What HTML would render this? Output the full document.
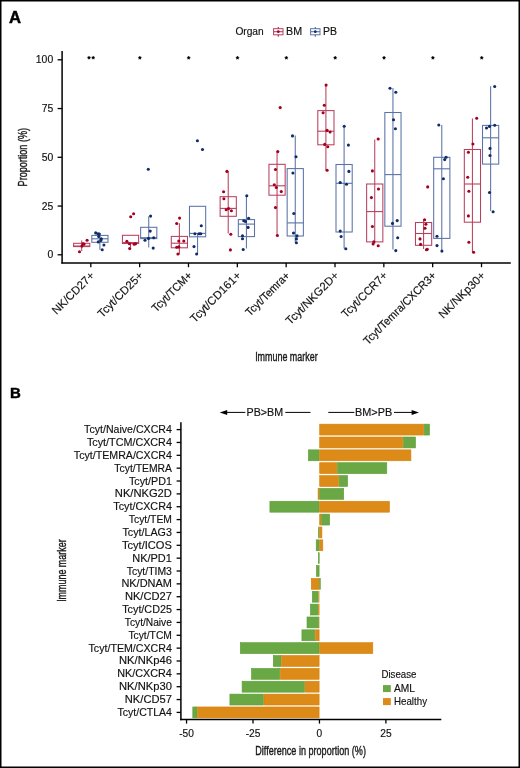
<!DOCTYPE html>
<html><head><meta charset="utf-8"><title>Figure</title>
<style>html,body{margin:0;padding:0;background:#fff;width:520px;height:768px;overflow:hidden}svg{display:block;will-change:transform}</style>
</head><body>
<svg width="520" height="768" viewBox="0 0 520 768" font-family='"Liberation Sans", sans-serif'>
<rect x="0" y="0" width="520" height="768" fill="#fff"/>
<text transform="translate(8.9,22.9) scale(1.05,1)" font-size="15.9" font-weight="bold" fill="#000" stroke="#000" stroke-width="0.45">A</text>
<text x="235.4" y="34.7" font-size="10.2" fill="#111" stroke="#111" stroke-width="0.15">Organ</text>
<line x1="278.3" y1="27.1" x2="278.3" y2="36.5" stroke="#B8405F" stroke-width="1"/><rect x="273.6" y="28.7" width="9.4" height="6.1" fill="#fff" stroke="#B8405F" stroke-width="1"/><line x1="278.3" y1="27.1" x2="278.3" y2="28.7" stroke="#B8405F" stroke-width="1"/><line x1="278.3" y1="34.8" x2="278.3" y2="36.5" stroke="#B8405F" stroke-width="1"/><line x1="273.6" y1="31.7" x2="283.0" y2="31.7" stroke="#B8405F" stroke-width="1.1"/><circle cx="278.3" cy="31.7" r="1.35" fill="#A3001F"/>
<text transform="translate(286.0,34.8) scale(1.05,1)" font-size="10.2" fill="#111" stroke="#111" stroke-width="0.15">BM</text>
<line x1="315.3" y1="27.1" x2="315.3" y2="36.5" stroke="#5A72A6" stroke-width="1"/><rect x="310.6" y="28.7" width="9.4" height="6.1" fill="#fff" stroke="#5A72A6" stroke-width="1"/><line x1="315.3" y1="27.1" x2="315.3" y2="28.7" stroke="#5A72A6" stroke-width="1"/><line x1="315.3" y1="34.8" x2="315.3" y2="36.5" stroke="#5A72A6" stroke-width="1"/><line x1="310.6" y1="31.7" x2="320.0" y2="31.7" stroke="#5A72A6" stroke-width="1.1"/><circle cx="315.3" cy="31.7" r="1.35" fill="#102C68"/>
<text transform="translate(323.0,34.8) scale(1.03,1)" font-size="10.2" fill="#111" stroke="#111" stroke-width="0.15">PB</text>
<line x1="62.1" y1="51" x2="62.1" y2="263.5" stroke="#000" stroke-width="1.5"/>
<line x1="61.35" y1="262.9" x2="510.8" y2="262.9" stroke="#000" stroke-width="1.5"/>
<line x1="57.6" y1="254.80" x2="62" y2="254.80" stroke="#000" stroke-width="1.3"/>
<text x="53.2" y="258.40" font-size="10.4" text-anchor="end" fill="#111" stroke="#111" stroke-width="0.15">0</text>
<line x1="57.6" y1="206.05" x2="62" y2="206.05" stroke="#000" stroke-width="1.3"/>
<text x="53.2" y="209.65" font-size="10.4" text-anchor="end" fill="#111" stroke="#111" stroke-width="0.15">25</text>
<line x1="57.6" y1="157.30" x2="62" y2="157.30" stroke="#000" stroke-width="1.3"/>
<text x="53.2" y="160.90" font-size="10.4" text-anchor="end" fill="#111" stroke="#111" stroke-width="0.15">50</text>
<line x1="57.6" y1="108.55" x2="62" y2="108.55" stroke="#000" stroke-width="1.3"/>
<text x="53.2" y="112.15" font-size="10.4" text-anchor="end" fill="#111" stroke="#111" stroke-width="0.15">75</text>
<line x1="57.6" y1="59.80" x2="62" y2="59.80" stroke="#000" stroke-width="1.3"/>
<text x="53.2" y="63.40" font-size="10.4" text-anchor="end" fill="#111" stroke="#111" stroke-width="0.15">100</text>
<line x1="90.80" y1="263" x2="90.80" y2="267.2" stroke="#000" stroke-width="1.3"/>
<text transform="translate(91.20,272.3) rotate(-45) scale(1.0,1)" font-size="11.4" text-anchor="end" fill="#111" stroke="#111" stroke-width="0.15" dy="5.6">NK/CD27+</text>
<line x1="139.64" y1="263" x2="139.64" y2="267.2" stroke="#000" stroke-width="1.3"/>
<text transform="translate(140.04,272.3) rotate(-45) scale(1.0,1)" font-size="11.4" text-anchor="end" fill="#111" stroke="#111" stroke-width="0.15" dy="5.6">Tcyt/CD25+</text>
<line x1="188.48" y1="263" x2="188.48" y2="267.2" stroke="#000" stroke-width="1.3"/>
<text transform="translate(188.88,272.3) rotate(-45) scale(0.946,1)" font-size="11.4" text-anchor="end" fill="#111" stroke="#111" stroke-width="0.15" dy="5.6">Tcyt/TCM+</text>
<line x1="237.32" y1="263" x2="237.32" y2="267.2" stroke="#000" stroke-width="1.3"/>
<text transform="translate(237.72,272.3) rotate(-45) scale(1.012,1)" font-size="11.4" text-anchor="end" fill="#111" stroke="#111" stroke-width="0.15" dy="5.6">Tcyt/CD161+</text>
<line x1="286.16" y1="263" x2="286.16" y2="267.2" stroke="#000" stroke-width="1.3"/>
<text transform="translate(286.56,272.3) rotate(-45) scale(0.928,1)" font-size="11.4" text-anchor="end" fill="#111" stroke="#111" stroke-width="0.15" dy="5.6">Tcyt/Temra+</text>
<line x1="335.00" y1="263" x2="335.00" y2="267.2" stroke="#000" stroke-width="1.3"/>
<text transform="translate(335.40,272.3) rotate(-45) scale(1.0,1)" font-size="11.4" text-anchor="end" fill="#111" stroke="#111" stroke-width="0.15" dy="5.6">Tcyt/NKG2D+</text>
<line x1="383.84" y1="263" x2="383.84" y2="267.2" stroke="#000" stroke-width="1.3"/>
<text transform="translate(384.24,272.3) rotate(-45) scale(0.976,1)" font-size="11.4" text-anchor="end" fill="#111" stroke="#111" stroke-width="0.15" dy="5.6">Tcyt/CCR7+</text>
<line x1="432.68" y1="263" x2="432.68" y2="267.2" stroke="#000" stroke-width="1.3"/>
<text transform="translate(433.08,272.3) rotate(-45) scale(0.945,1)" font-size="11.4" text-anchor="end" fill="#111" stroke="#111" stroke-width="0.15" dy="5.6">Tcyt/Temra/CXCR3+</text>
<line x1="481.52" y1="263" x2="481.52" y2="267.2" stroke="#000" stroke-width="1.3"/>
<text transform="translate(481.92,272.3) rotate(-45) scale(1.0,1)" font-size="11.4" text-anchor="end" fill="#111" stroke="#111" stroke-width="0.15" dy="5.6">NK/NKp30+</text>
<text transform="translate(286.4,360.7) scale(0.71,1)" font-size="12.6" text-anchor="middle" fill="#1a1a1a" stroke="#1a1a1a" stroke-width="0.4">Immune marker</text>
<text transform="translate(26.6,157.2) rotate(-90) scale(0.72,1)" font-size="12.6" text-anchor="middle" fill="#1a1a1a" stroke="#1a1a1a" stroke-width="0.4">Proportion (%)</text>
<path transform="translate(89.00,57.7)" d="M0.00,-1.75 L0.56,-0.77 L1.66,-0.54 L0.90,0.29 L1.03,1.42 L0.00,0.95 L-1.03,1.42 L-0.90,0.29 L-1.66,-0.54 L-0.56,-0.77 Z" fill="#000" stroke="#000" stroke-width="0.4"/>
<path transform="translate(93.20,57.7)" d="M0.00,-1.75 L0.56,-0.77 L1.66,-0.54 L0.90,0.29 L1.03,1.42 L0.00,0.95 L-1.03,1.42 L-0.90,0.29 L-1.66,-0.54 L-0.56,-0.77 Z" fill="#000" stroke="#000" stroke-width="0.4"/>
<path transform="translate(139.84,57.8)" d="M0.00,-1.75 L0.56,-0.77 L1.66,-0.54 L0.90,0.29 L1.03,1.42 L0.00,0.95 L-1.03,1.42 L-0.90,0.29 L-1.66,-0.54 L-0.56,-0.77 Z" fill="#000" stroke="#000" stroke-width="0.4"/>
<path transform="translate(188.68,57.8)" d="M0.00,-1.75 L0.56,-0.77 L1.66,-0.54 L0.90,0.29 L1.03,1.42 L0.00,0.95 L-1.03,1.42 L-0.90,0.29 L-1.66,-0.54 L-0.56,-0.77 Z" fill="#000" stroke="#000" stroke-width="0.4"/>
<path transform="translate(237.52,57.8)" d="M0.00,-1.75 L0.56,-0.77 L1.66,-0.54 L0.90,0.29 L1.03,1.42 L0.00,0.95 L-1.03,1.42 L-0.90,0.29 L-1.66,-0.54 L-0.56,-0.77 Z" fill="#000" stroke="#000" stroke-width="0.4"/>
<path transform="translate(286.36,57.8)" d="M0.00,-1.75 L0.56,-0.77 L1.66,-0.54 L0.90,0.29 L1.03,1.42 L0.00,0.95 L-1.03,1.42 L-0.90,0.29 L-1.66,-0.54 L-0.56,-0.77 Z" fill="#000" stroke="#000" stroke-width="0.4"/>
<path transform="translate(335.20,57.8)" d="M0.00,-1.75 L0.56,-0.77 L1.66,-0.54 L0.90,0.29 L1.03,1.42 L0.00,0.95 L-1.03,1.42 L-0.90,0.29 L-1.66,-0.54 L-0.56,-0.77 Z" fill="#000" stroke="#000" stroke-width="0.4"/>
<path transform="translate(384.04,57.8)" d="M0.00,-1.75 L0.56,-0.77 L1.66,-0.54 L0.90,0.29 L1.03,1.42 L0.00,0.95 L-1.03,1.42 L-0.90,0.29 L-1.66,-0.54 L-0.56,-0.77 Z" fill="#000" stroke="#000" stroke-width="0.4"/>
<path transform="translate(432.88,57.8)" d="M0.00,-1.75 L0.56,-0.77 L1.66,-0.54 L0.90,0.29 L1.03,1.42 L0.00,0.95 L-1.03,1.42 L-0.90,0.29 L-1.66,-0.54 L-0.56,-0.77 Z" fill="#000" stroke="#000" stroke-width="0.4"/>
<path transform="translate(481.72,57.8)" d="M0.00,-1.75 L0.56,-0.77 L1.66,-0.54 L0.90,0.29 L1.03,1.42 L0.00,0.95 L-1.03,1.42 L-0.90,0.29 L-1.66,-0.54 L-0.56,-0.77 Z" fill="#000" stroke="#000" stroke-width="0.4"/>
<line x1="81.7" y1="240.6" x2="81.7" y2="251.0" stroke="#B8405F" stroke-width="1.05"/>
<rect x="73.6" y="243.3" width="16.200000000000003" height="3.30" fill="none" stroke="#B8405F" stroke-width="1.05"/>
<line x1="73.6" y1="246.0" x2="89.8" y2="246.0" stroke="#B8405F" stroke-width="1.1"/>
<circle cx="87.10" cy="240.20" r="1.55" fill="#A3001F"/>
<circle cx="79.50" cy="251.70" r="1.55" fill="#A3001F"/>
<circle cx="83.00" cy="243.90" r="1.55" fill="#A3001F"/>
<circle cx="81.90" cy="246.10" r="1.55" fill="#A3001F"/>
<circle cx="84.00" cy="244.10" r="1.55" fill="#A3001F"/>
<line x1="99.9" y1="232.8" x2="99.9" y2="249.7" stroke="#5A72A6" stroke-width="1.05"/>
<rect x="91.8" y="235.4" width="16.200000000000003" height="6.90" fill="none" stroke="#5A72A6" stroke-width="1.05"/>
<line x1="91.8" y1="238.8" x2="108.0" y2="238.8" stroke="#5A72A6" stroke-width="1.1"/>
<circle cx="95.70" cy="232.90" r="1.55" fill="#102C68"/>
<circle cx="97.90" cy="233.80" r="1.55" fill="#102C68"/>
<circle cx="99.20" cy="234.10" r="1.55" fill="#102C68"/>
<circle cx="98.70" cy="236.50" r="1.55" fill="#102C68"/>
<circle cx="101.30" cy="238.70" r="1.55" fill="#102C68"/>
<circle cx="100.90" cy="240.40" r="1.55" fill="#102C68"/>
<circle cx="98.30" cy="241.90" r="1.55" fill="#102C68"/>
<circle cx="103.90" cy="245.00" r="1.55" fill="#102C68"/>
<circle cx="102.20" cy="249.70" r="1.55" fill="#102C68"/>
<line x1="130.54" y1="242.6" x2="130.54" y2="247.4" stroke="#B8405F" stroke-width="1.05"/>
<rect x="122.44" y="235.3" width="16.19999999999999" height="8.20" fill="none" stroke="#B8405F" stroke-width="1.05"/>
<line x1="122.44" y1="242.6" x2="138.64" y2="242.6" stroke="#B8405F" stroke-width="1.1"/>
<circle cx="133.60" cy="213.80" r="1.55" fill="#A3001F"/>
<circle cx="130.70" cy="216.70" r="1.55" fill="#A3001F"/>
<circle cx="126.90" cy="241.20" r="1.55" fill="#A3001F"/>
<circle cx="129.40" cy="243.80" r="1.55" fill="#A3001F"/>
<circle cx="134.20" cy="244.20" r="1.55" fill="#A3001F"/>
<circle cx="135.50" cy="243.80" r="1.55" fill="#A3001F"/>
<circle cx="129.70" cy="248.60" r="1.55" fill="#A3001F"/>
<line x1="148.74" y1="216.2" x2="148.74" y2="247.4" stroke="#5A72A6" stroke-width="1.05"/>
<rect x="140.64" y="227.3" width="16.200000000000017" height="11.30" fill="none" stroke="#5A72A6" stroke-width="1.05"/>
<line x1="140.64" y1="237.7" x2="156.84" y2="237.7" stroke="#5A72A6" stroke-width="1.1"/>
<circle cx="148.30" cy="169.30" r="1.55" fill="#102C68"/>
<circle cx="150.60" cy="216.10" r="1.55" fill="#102C68"/>
<circle cx="150.20" cy="231.10" r="1.55" fill="#102C68"/>
<circle cx="153.70" cy="237.70" r="1.55" fill="#102C68"/>
<circle cx="148.50" cy="238.40" r="1.55" fill="#102C68"/>
<circle cx="145.00" cy="240.30" r="1.55" fill="#102C68"/>
<circle cx="153.20" cy="248.10" r="1.55" fill="#102C68"/>
<line x1="179.38" y1="223.2" x2="179.38" y2="254.6" stroke="#B8405F" stroke-width="1.05"/>
<rect x="171.28" y="236.4" width="16.19999999999999" height="11.40" fill="none" stroke="#B8405F" stroke-width="1.05"/>
<line x1="171.28" y1="243.2" x2="187.48" y2="243.2" stroke="#B8405F" stroke-width="1.1"/>
<circle cx="179.60" cy="218.10" r="1.55" fill="#A3001F"/>
<circle cx="176.70" cy="223.50" r="1.55" fill="#A3001F"/>
<circle cx="178.80" cy="241.00" r="1.55" fill="#A3001F"/>
<circle cx="183.80" cy="241.00" r="1.55" fill="#A3001F"/>
<circle cx="176.70" cy="247.30" r="1.55" fill="#A3001F"/>
<circle cx="178.80" cy="246.90" r="1.55" fill="#A3001F"/>
<circle cx="177.90" cy="254.00" r="1.55" fill="#A3001F"/>
<line x1="197.58" y1="233.4" x2="197.58" y2="254.6" stroke="#5A72A6" stroke-width="1.05"/>
<rect x="189.48" y="206.3" width="16.200000000000017" height="30.50" fill="none" stroke="#5A72A6" stroke-width="1.05"/>
<line x1="189.48" y1="233.4" x2="205.68" y2="233.4" stroke="#5A72A6" stroke-width="1.1"/>
<circle cx="197.40" cy="140.80" r="1.55" fill="#102C68"/>
<circle cx="202.50" cy="149.50" r="1.55" fill="#102C68"/>
<circle cx="201.30" cy="225.70" r="1.55" fill="#102C68"/>
<circle cx="194.90" cy="233.70" r="1.55" fill="#102C68"/>
<circle cx="199.10" cy="233.70" r="1.55" fill="#102C68"/>
<circle cx="200.80" cy="233.70" r="1.55" fill="#102C68"/>
<circle cx="194.00" cy="246.60" r="1.55" fill="#102C68"/>
<circle cx="196.60" cy="254.00" r="1.55" fill="#102C68"/>
<line x1="228.22" y1="171.1" x2="228.22" y2="233.6" stroke="#B8405F" stroke-width="1.05"/>
<rect x="220.12" y="196.7" width="16.19999999999999" height="19.60" fill="none" stroke="#B8405F" stroke-width="1.05"/>
<line x1="220.12" y1="208.4" x2="236.32" y2="208.4" stroke="#B8405F" stroke-width="1.1"/>
<circle cx="226.90" cy="171.40" r="1.55" fill="#A3001F"/>
<circle cx="223.60" cy="191.80" r="1.55" fill="#A3001F"/>
<circle cx="223.90" cy="198.70" r="1.55" fill="#A3001F"/>
<circle cx="226.20" cy="209.80" r="1.55" fill="#A3001F"/>
<circle cx="228.60" cy="208.50" r="1.55" fill="#A3001F"/>
<circle cx="231.40" cy="210.80" r="1.55" fill="#A3001F"/>
<circle cx="230.80" cy="234.30" r="1.55" fill="#A3001F"/>
<circle cx="230.40" cy="249.90" r="1.55" fill="#A3001F"/>
<line x1="246.42" y1="195.4" x2="246.42" y2="248.5" stroke="#5A72A6" stroke-width="1.05"/>
<rect x="238.32" y="219.6" width="16.200000000000017" height="17.00" fill="none" stroke="#5A72A6" stroke-width="1.05"/>
<line x1="238.32" y1="224.1" x2="254.52" y2="224.1" stroke="#5A72A6" stroke-width="1.1"/>
<circle cx="246.80" cy="195.70" r="1.55" fill="#102C68"/>
<circle cx="248.60" cy="218.20" r="1.55" fill="#102C68"/>
<circle cx="243.80" cy="220.80" r="1.55" fill="#102C68"/>
<circle cx="245.50" cy="221.50" r="1.55" fill="#102C68"/>
<circle cx="248.10" cy="227.40" r="1.55" fill="#102C68"/>
<circle cx="242.50" cy="235.80" r="1.55" fill="#102C68"/>
<circle cx="242.50" cy="238.80" r="1.55" fill="#102C68"/>
<circle cx="243.20" cy="249.50" r="1.55" fill="#102C68"/>
<line x1="277.06" y1="151.3" x2="277.06" y2="235.2" stroke="#B8405F" stroke-width="1.05"/>
<rect x="268.96" y="164.3" width="16.200000000000045" height="30.90" fill="none" stroke="#B8405F" stroke-width="1.05"/>
<line x1="268.96" y1="185.8" x2="285.16" y2="185.8" stroke="#B8405F" stroke-width="1.1"/>
<circle cx="280.20" cy="107.60" r="1.55" fill="#A3001F"/>
<circle cx="277.80" cy="151.60" r="1.55" fill="#A3001F"/>
<circle cx="275.50" cy="169.50" r="1.55" fill="#A3001F"/>
<circle cx="274.30" cy="184.80" r="1.55" fill="#A3001F"/>
<circle cx="276.30" cy="187.50" r="1.55" fill="#A3001F"/>
<circle cx="281.30" cy="191.60" r="1.55" fill="#A3001F"/>
<circle cx="275.50" cy="207.60" r="1.55" fill="#A3001F"/>
<circle cx="277.40" cy="235.50" r="1.55" fill="#A3001F"/>
<line x1="295.26" y1="135.6" x2="295.26" y2="242.5" stroke="#5A72A6" stroke-width="1.05"/>
<rect x="287.16" y="168.6" width="16.19999999999999" height="67.40" fill="none" stroke="#5A72A6" stroke-width="1.05"/>
<line x1="287.16" y1="222.9" x2="303.36" y2="222.9" stroke="#5A72A6" stroke-width="1.1"/>
<circle cx="292.50" cy="135.90" r="1.55" fill="#102C68"/>
<circle cx="296.00" cy="156.80" r="1.55" fill="#102C68"/>
<circle cx="292.90" cy="173.00" r="1.55" fill="#102C68"/>
<circle cx="293.80" cy="213.50" r="1.55" fill="#102C68"/>
<circle cx="293.50" cy="233.00" r="1.55" fill="#102C68"/>
<circle cx="297.00" cy="235.90" r="1.55" fill="#102C68"/>
<circle cx="296.40" cy="238.90" r="1.55" fill="#102C68"/>
<circle cx="296.40" cy="242.80" r="1.55" fill="#102C68"/>
<line x1="325.9" y1="84.8" x2="325.9" y2="169.9" stroke="#B8405F" stroke-width="1.05"/>
<rect x="317.8" y="110.6" width="16.19999999999999" height="34.20" fill="none" stroke="#B8405F" stroke-width="1.05"/>
<line x1="317.8" y1="131.2" x2="334.0" y2="131.2" stroke="#B8405F" stroke-width="1.1"/>
<circle cx="326.10" cy="85.10" r="1.55" fill="#A3001F"/>
<circle cx="324.30" cy="105.30" r="1.55" fill="#A3001F"/>
<circle cx="323.10" cy="112.80" r="1.55" fill="#A3001F"/>
<circle cx="327.10" cy="130.40" r="1.55" fill="#A3001F"/>
<circle cx="330.10" cy="132.00" r="1.55" fill="#A3001F"/>
<circle cx="324.70" cy="144.40" r="1.55" fill="#A3001F"/>
<circle cx="327.80" cy="146.80" r="1.55" fill="#A3001F"/>
<circle cx="327.10" cy="170.20" r="1.55" fill="#A3001F"/>
<line x1="344.1" y1="125.9" x2="344.1" y2="248.4" stroke="#5A72A6" stroke-width="1.05"/>
<rect x="336.0" y="164.5" width="16.19999999999999" height="67.50" fill="none" stroke="#5A72A6" stroke-width="1.05"/>
<line x1="336.0" y1="183.3" x2="352.2" y2="183.3" stroke="#5A72A6" stroke-width="1.1"/>
<circle cx="344.20" cy="126.20" r="1.55" fill="#102C68"/>
<circle cx="348.40" cy="145.10" r="1.55" fill="#102C68"/>
<circle cx="348.90" cy="171.40" r="1.55" fill="#102C68"/>
<circle cx="340.20" cy="182.60" r="1.55" fill="#102C68"/>
<circle cx="346.50" cy="184.30" r="1.55" fill="#102C68"/>
<circle cx="340.20" cy="231.10" r="1.55" fill="#102C68"/>
<circle cx="341.10" cy="236.50" r="1.55" fill="#102C68"/>
<circle cx="345.80" cy="248.70" r="1.55" fill="#102C68"/>
<line x1="374.74" y1="139.4" x2="374.74" y2="243.7" stroke="#B8405F" stroke-width="1.05"/>
<rect x="366.64" y="184.0" width="16.19999999999999" height="57.90" fill="none" stroke="#B8405F" stroke-width="1.05"/>
<line x1="366.64" y1="211.6" x2="382.84" y2="211.6" stroke="#B8405F" stroke-width="1.1"/>
<circle cx="378.20" cy="139.00" r="1.55" fill="#A3001F"/>
<circle cx="372.40" cy="170.90" r="1.55" fill="#A3001F"/>
<circle cx="378.50" cy="189.00" r="1.55" fill="#A3001F"/>
<circle cx="371.40" cy="197.60" r="1.55" fill="#A3001F"/>
<circle cx="372.40" cy="226.50" r="1.55" fill="#A3001F"/>
<circle cx="373.80" cy="241.70" r="1.55" fill="#A3001F"/>
<circle cx="373.10" cy="244.00" r="1.55" fill="#A3001F"/>
<circle cx="378.20" cy="245.70" r="1.55" fill="#A3001F"/>
<line x1="392.94" y1="87.9" x2="392.94" y2="249.6" stroke="#5A72A6" stroke-width="1.05"/>
<rect x="384.84" y="112.5" width="16.200000000000045" height="113.70" fill="none" stroke="#5A72A6" stroke-width="1.05"/>
<line x1="384.84" y1="174.6" x2="401.04" y2="174.6" stroke="#5A72A6" stroke-width="1.1"/>
<circle cx="390.00" cy="88.20" r="1.55" fill="#102C68"/>
<circle cx="395.80" cy="92.20" r="1.55" fill="#102C68"/>
<circle cx="393.50" cy="119.80" r="1.55" fill="#102C68"/>
<circle cx="395.40" cy="128.70" r="1.55" fill="#102C68"/>
<circle cx="392.50" cy="223.40" r="1.55" fill="#102C68"/>
<circle cx="397.20" cy="220.60" r="1.55" fill="#102C68"/>
<circle cx="397.70" cy="237.70" r="1.55" fill="#102C68"/>
<circle cx="395.80" cy="250.60" r="1.55" fill="#102C68"/>
<line x1="423.58" y1="219.8" x2="423.58" y2="249.0" stroke="#B8405F" stroke-width="1.05"/>
<rect x="415.48" y="222.5" width="16.19999999999999" height="22.80" fill="none" stroke="#B8405F" stroke-width="1.05"/>
<line x1="415.48" y1="233.5" x2="431.68" y2="233.5" stroke="#B8405F" stroke-width="1.1"/>
<circle cx="427.70" cy="186.90" r="1.55" fill="#A3001F"/>
<circle cx="424.60" cy="219.70" r="1.55" fill="#A3001F"/>
<circle cx="425.90" cy="224.30" r="1.55" fill="#A3001F"/>
<circle cx="425.00" cy="228.30" r="1.55" fill="#A3001F"/>
<circle cx="420.00" cy="238.90" r="1.55" fill="#A3001F"/>
<circle cx="420.60" cy="244.40" r="1.55" fill="#A3001F"/>
<circle cx="427.30" cy="249.30" r="1.55" fill="#A3001F"/>
<circle cx="426.40" cy="249.80" r="1.55" fill="#A3001F"/>
<line x1="441.78" y1="125.0" x2="441.78" y2="251.3" stroke="#5A72A6" stroke-width="1.05"/>
<rect x="433.68" y="157.3" width="16.19999999999999" height="81.10" fill="none" stroke="#5A72A6" stroke-width="1.05"/>
<line x1="433.68" y1="168.8" x2="449.88" y2="168.8" stroke="#5A72A6" stroke-width="1.1"/>
<circle cx="438.80" cy="125.00" r="1.55" fill="#102C68"/>
<circle cx="446.10" cy="157.20" r="1.55" fill="#102C68"/>
<circle cx="444.70" cy="159.60" r="1.55" fill="#102C68"/>
<circle cx="443.40" cy="178.70" r="1.55" fill="#102C68"/>
<circle cx="437.00" cy="236.20" r="1.55" fill="#102C68"/>
<circle cx="437.00" cy="245.60" r="1.55" fill="#102C68"/>
<circle cx="441.90" cy="251.10" r="1.55" fill="#102C68"/>
<line x1="472.42" y1="118.4" x2="472.42" y2="251.9" stroke="#B8405F" stroke-width="1.05"/>
<rect x="464.32" y="149.5" width="16.19999999999999" height="72.70" fill="none" stroke="#B8405F" stroke-width="1.05"/>
<line x1="464.32" y1="184.0" x2="480.52" y2="184.0" stroke="#B8405F" stroke-width="1.1"/>
<circle cx="476.70" cy="118.20" r="1.55" fill="#A3001F"/>
<circle cx="472.90" cy="144.00" r="1.55" fill="#A3001F"/>
<circle cx="468.40" cy="152.20" r="1.55" fill="#A3001F"/>
<circle cx="467.70" cy="177.30" r="1.55" fill="#A3001F"/>
<circle cx="468.90" cy="191.30" r="1.55" fill="#A3001F"/>
<circle cx="468.40" cy="215.90" r="1.55" fill="#A3001F"/>
<circle cx="468.90" cy="242.20" r="1.55" fill="#A3001F"/>
<circle cx="473.60" cy="252.20" r="1.55" fill="#A3001F"/>
<line x1="490.62" y1="86.2" x2="490.62" y2="210.9" stroke="#5A72A6" stroke-width="1.05"/>
<rect x="482.52" y="125.4" width="16.200000000000045" height="38.70" fill="none" stroke="#5A72A6" stroke-width="1.05"/>
<line x1="482.52" y1="137.8" x2="498.72" y2="137.8" stroke="#5A72A6" stroke-width="1.1"/>
<circle cx="494.70" cy="86.50" r="1.55" fill="#102C68"/>
<circle cx="486.50" cy="128.00" r="1.55" fill="#102C68"/>
<circle cx="489.50" cy="126.40" r="1.55" fill="#102C68"/>
<circle cx="494.70" cy="125.20" r="1.55" fill="#102C68"/>
<circle cx="490.00" cy="148.40" r="1.55" fill="#102C68"/>
<circle cx="490.00" cy="155.50" r="1.55" fill="#102C68"/>
<circle cx="489.50" cy="192.50" r="1.55" fill="#102C68"/>
<circle cx="493.10" cy="211.70" r="1.55" fill="#102C68"/>
<text transform="translate(9.9,398.3) scale(0.98,1)" font-size="15.3" font-weight="bold" fill="#000" stroke="#000" stroke-width="0.45">B</text>
<rect x="319.70" y="424.15" width="103.90" height="10.90" fill="#DC8A18" stroke="#D88004" stroke-width="0.6"/>
<rect x="424.20" y="424.15" width="5.30" height="10.90" fill="#69A845" stroke="#5A9E32" stroke-width="0.6"/>
<rect x="319.70" y="437.01" width="83.10" height="10.90" fill="#DC8A18" stroke="#D88004" stroke-width="0.6"/>
<rect x="403.40" y="437.01" width="12.10" height="10.90" fill="#69A845" stroke="#5A9E32" stroke-width="0.6"/>
<rect x="308.40" y="449.86" width="10.70" height="10.90" fill="#69A845" stroke="#5A9E32" stroke-width="0.6"/>
<rect x="319.70" y="449.86" width="91.20" height="10.90" fill="#DC8A18" stroke="#D88004" stroke-width="0.6"/>
<rect x="319.70" y="462.72" width="17.20" height="10.90" fill="#DC8A18" stroke="#D88004" stroke-width="0.6"/>
<rect x="337.50" y="462.72" width="49.30" height="10.90" fill="#69A845" stroke="#5A9E32" stroke-width="0.6"/>
<rect x="319.70" y="475.57" width="18.90" height="10.90" fill="#DC8A18" stroke="#D88004" stroke-width="0.6"/>
<rect x="339.20" y="475.57" width="8.40" height="10.90" fill="#69A845" stroke="#5A9E32" stroke-width="0.6"/>
<rect x="318.10" y="488.43" width="1.00" height="10.90" fill="#DC8A18" stroke="#D88004" stroke-width="0.6"/>
<rect x="319.70" y="488.43" width="24.00" height="10.90" fill="#69A845" stroke="#5A9E32" stroke-width="0.6"/>
<rect x="269.90" y="501.28" width="49.20" height="10.90" fill="#69A845" stroke="#5A9E32" stroke-width="0.6"/>
<rect x="319.70" y="501.28" width="69.70" height="10.90" fill="#DC8A18" stroke="#D88004" stroke-width="0.6"/>
<rect x="319.70" y="514.13" width="1.40" height="10.90" fill="#DC8A18" stroke="#D88004" stroke-width="0.6"/>
<rect x="321.70" y="514.13" width="7.90" height="10.90" fill="#69A845" stroke="#5A9E32" stroke-width="0.6"/>
<rect x="318.50" y="526.99" width="0.60" height="10.90" fill="#69A845" stroke="#5A9E32" stroke-width="0.6"/>
<rect x="319.70" y="526.99" width="2.20" height="10.90" fill="#DC8A18" stroke="#D88004" stroke-width="0.6"/>
<rect x="316.20" y="539.85" width="2.90" height="10.90" fill="#69A845" stroke="#5A9E32" stroke-width="0.6"/>
<rect x="319.70" y="539.85" width="3.10" height="10.90" fill="#DC8A18" stroke="#D88004" stroke-width="0.6"/>
<rect x="318.30" y="552.70" width="0.90" height="10.90" fill="#69A845" stroke="#5A9E32" stroke-width="0.6"/>
<rect x="316.40" y="565.55" width="2.70" height="10.90" fill="#69A845" stroke="#5A9E32" stroke-width="0.6"/>
<rect x="311.30" y="578.41" width="7.80" height="10.90" fill="#DC8A18" stroke="#D88004" stroke-width="0.6"/>
<rect x="319.70" y="578.41" width="0.60" height="10.90" fill="#69A845" stroke="#5A9E32" stroke-width="0.6"/>
<rect x="312.30" y="591.26" width="5.90" height="10.90" fill="#69A845" stroke="#5A9E32" stroke-width="0.6"/>
<rect x="318.5" y="590.97" width="0.90" height="11.5" fill="#DC8A18"/>
<rect x="310.40" y="604.12" width="7.50" height="10.90" fill="#69A845" stroke="#5A9E32" stroke-width="0.6"/>
<rect x="318.50" y="604.12" width="0.60" height="10.90" fill="#DC8A18" stroke="#D88004" stroke-width="0.6"/>
<rect x="307.00" y="616.98" width="11.70" height="10.90" fill="#69A845" stroke="#5A9E32" stroke-width="0.6"/>
<rect x="319.0" y="616.68" width="0.40" height="11.5" fill="#DC8A18"/>
<rect x="301.90" y="629.83" width="12.90" height="10.90" fill="#69A845" stroke="#5A9E32" stroke-width="0.6"/>
<rect x="315.40" y="629.83" width="3.70" height="10.90" fill="#DC8A18" stroke="#D88004" stroke-width="0.6"/>
<rect x="240.30" y="642.68" width="78.80" height="10.90" fill="#69A845" stroke="#5A9E32" stroke-width="0.6"/>
<rect x="319.70" y="642.68" width="53.10" height="10.90" fill="#DC8A18" stroke="#D88004" stroke-width="0.6"/>
<rect x="273.30" y="655.54" width="7.70" height="10.90" fill="#69A845" stroke="#5A9E32" stroke-width="0.6"/>
<rect x="281.60" y="655.54" width="37.50" height="10.90" fill="#DC8A18" stroke="#D88004" stroke-width="0.6"/>
<rect x="251.50" y="668.39" width="28.20" height="10.90" fill="#69A845" stroke="#5A9E32" stroke-width="0.6"/>
<rect x="280.30" y="668.39" width="38.80" height="10.90" fill="#DC8A18" stroke="#D88004" stroke-width="0.6"/>
<rect x="242.10" y="681.25" width="62.40" height="10.90" fill="#69A845" stroke="#5A9E32" stroke-width="0.6"/>
<rect x="305.10" y="681.25" width="14.00" height="10.90" fill="#DC8A18" stroke="#D88004" stroke-width="0.6"/>
<rect x="229.90" y="694.11" width="33.50" height="10.90" fill="#69A845" stroke="#5A9E32" stroke-width="0.6"/>
<rect x="264.00" y="694.11" width="55.10" height="10.90" fill="#DC8A18" stroke="#D88004" stroke-width="0.6"/>
<rect x="192.80" y="706.96" width="4.20" height="10.90" fill="#69A845" stroke="#5A9E32" stroke-width="0.6"/>
<rect x="197.60" y="706.96" width="121.50" height="10.90" fill="#DC8A18" stroke="#D88004" stroke-width="0.6"/>
<line x1="180.9" y1="422.2" x2="180.9" y2="720.2" stroke="#000" stroke-width="1.5"/>
<line x1="180.15" y1="719.5" x2="441.3" y2="719.5" stroke="#000" stroke-width="1.5"/>
<line x1="176.6" y1="429.60" x2="180.8" y2="429.60" stroke="#000" stroke-width="1.3"/>
<text transform="translate(171.9,433.10) scale(1.0105,1)" font-size="10.5" text-anchor="end" fill="#111" stroke="#111" stroke-width="0.15">Tcyt/Naive/CXCR4</text>
<line x1="176.6" y1="442.46" x2="180.8" y2="442.46" stroke="#000" stroke-width="1.3"/>
<text transform="translate(171.9,445.96) scale(1.028,1)" font-size="10.5" text-anchor="end" fill="#111" stroke="#111" stroke-width="0.15">Tcyt/TCM/CXCR4</text>
<line x1="176.6" y1="455.31" x2="180.8" y2="455.31" stroke="#000" stroke-width="1.3"/>
<text transform="translate(171.9,458.81) scale(1.0135,1)" font-size="10.5" text-anchor="end" fill="#111" stroke="#111" stroke-width="0.15">Tcyt/TEMRA/CXCR4</text>
<line x1="176.6" y1="468.17" x2="180.8" y2="468.17" stroke="#000" stroke-width="1.3"/>
<text transform="translate(171.9,471.67) scale(0.9879,1)" font-size="10.5" text-anchor="end" fill="#111" stroke="#111" stroke-width="0.15">Tcyt/TEMRA</text>
<line x1="176.6" y1="481.02" x2="180.8" y2="481.02" stroke="#000" stroke-width="1.3"/>
<text transform="translate(171.9,484.52) scale(1.0244,1)" font-size="10.5" text-anchor="end" fill="#111" stroke="#111" stroke-width="0.15">Tcyt/PD1</text>
<line x1="176.6" y1="493.88" x2="180.8" y2="493.88" stroke="#000" stroke-width="1.3"/>
<text transform="translate(171.9,497.38) scale(1.0654,1)" font-size="10.5" text-anchor="end" fill="#111" stroke="#111" stroke-width="0.15">NK/NKG2D</text>
<line x1="176.6" y1="506.73" x2="180.8" y2="506.73" stroke="#000" stroke-width="1.3"/>
<text transform="translate(171.9,510.23) scale(1.0268,1)" font-size="10.5" text-anchor="end" fill="#111" stroke="#111" stroke-width="0.15">Tcyt/CXCR4</text>
<line x1="176.6" y1="519.59" x2="180.8" y2="519.59" stroke="#000" stroke-width="1.3"/>
<text transform="translate(171.9,523.09) scale(0.986,1)" font-size="10.5" text-anchor="end" fill="#111" stroke="#111" stroke-width="0.15">Tcyt/TEM</text>
<line x1="176.6" y1="532.44" x2="180.8" y2="532.44" stroke="#000" stroke-width="1.3"/>
<text transform="translate(171.9,535.94) scale(1.0208,1)" font-size="10.5" text-anchor="end" fill="#111" stroke="#111" stroke-width="0.15">Tcyt/LAG3</text>
<line x1="176.6" y1="545.30" x2="180.8" y2="545.30" stroke="#000" stroke-width="1.3"/>
<text transform="translate(171.9,548.80) scale(1.0565,1)" font-size="10.5" text-anchor="end" fill="#111" stroke="#111" stroke-width="0.15">Tcyt/ICOS</text>
<line x1="176.6" y1="558.15" x2="180.8" y2="558.15" stroke="#000" stroke-width="1.3"/>
<text transform="translate(171.9,561.65) scale(1.0459,1)" font-size="10.5" text-anchor="end" fill="#111" stroke="#111" stroke-width="0.15">NK/PD1</text>
<line x1="176.6" y1="571.00" x2="180.8" y2="571.00" stroke="#000" stroke-width="1.3"/>
<text transform="translate(171.9,574.50) scale(0.9933,1)" font-size="10.5" text-anchor="end" fill="#111" stroke="#111" stroke-width="0.15">Tcyt/TIM3</text>
<line x1="176.6" y1="583.86" x2="180.8" y2="583.86" stroke="#000" stroke-width="1.3"/>
<text transform="translate(171.9,587.36) scale(1.0447,1)" font-size="10.5" text-anchor="end" fill="#111" stroke="#111" stroke-width="0.15">NK/DNAM</text>
<line x1="176.6" y1="596.72" x2="180.8" y2="596.72" stroke="#000" stroke-width="1.3"/>
<text transform="translate(171.9,600.22) scale(1.0605,1)" font-size="10.5" text-anchor="end" fill="#111" stroke="#111" stroke-width="0.15">NK/CD27</text>
<line x1="176.6" y1="609.57" x2="180.8" y2="609.57" stroke="#000" stroke-width="1.3"/>
<text transform="translate(171.9,613.07) scale(1.0271,1)" font-size="10.5" text-anchor="end" fill="#111" stroke="#111" stroke-width="0.15">Tcyt/CD25</text>
<line x1="176.6" y1="622.43" x2="180.8" y2="622.43" stroke="#000" stroke-width="1.3"/>
<text transform="translate(171.9,625.93) scale(0.9729,1)" font-size="10.5" text-anchor="end" fill="#111" stroke="#111" stroke-width="0.15">Tcyt/Naive</text>
<line x1="176.6" y1="635.28" x2="180.8" y2="635.28" stroke="#000" stroke-width="1.3"/>
<text transform="translate(171.9,638.78) scale(0.9818,1)" font-size="10.5" text-anchor="end" fill="#111" stroke="#111" stroke-width="0.15">Tcyt/TCM</text>
<line x1="176.6" y1="648.13" x2="180.8" y2="648.13" stroke="#000" stroke-width="1.3"/>
<text transform="translate(171.9,651.63) scale(1.0148,1)" font-size="10.5" text-anchor="end" fill="#111" stroke="#111" stroke-width="0.15">Tcyt/TEM/CXCR4</text>
<line x1="176.6" y1="660.99" x2="180.8" y2="660.99" stroke="#000" stroke-width="1.3"/>
<text transform="translate(171.9,664.49) scale(1.0667,1)" font-size="10.5" text-anchor="end" fill="#111" stroke="#111" stroke-width="0.15">NK/NKp46</text>
<line x1="176.6" y1="673.85" x2="180.8" y2="673.85" stroke="#000" stroke-width="1.3"/>
<text transform="translate(171.9,677.35) scale(1.0327,1)" font-size="10.5" text-anchor="end" fill="#111" stroke="#111" stroke-width="0.15">NK/CXCR4</text>
<line x1="176.6" y1="686.70" x2="180.8" y2="686.70" stroke="#000" stroke-width="1.3"/>
<text transform="translate(171.9,690.20) scale(1.0667,1)" font-size="10.5" text-anchor="end" fill="#111" stroke="#111" stroke-width="0.15">NK/NKp30</text>
<line x1="176.6" y1="699.56" x2="180.8" y2="699.56" stroke="#000" stroke-width="1.3"/>
<text transform="translate(171.9,703.06) scale(1.0628,1)" font-size="10.5" text-anchor="end" fill="#111" stroke="#111" stroke-width="0.15">NK/CD57</text>
<line x1="176.6" y1="712.41" x2="180.8" y2="712.41" stroke="#000" stroke-width="1.3"/>
<text transform="translate(171.9,715.91) scale(1.0019,1)" font-size="10.5" text-anchor="end" fill="#111" stroke="#111" stroke-width="0.15">Tcyt/CTLA4</text>
<line x1="186.55" y1="719.5" x2="186.55" y2="723.6" stroke="#000" stroke-width="1.3"/>
<text x="186.55" y="737.3" font-size="10.2" text-anchor="middle" fill="#111" stroke="#111" stroke-width="0.15">-50</text>
<line x1="253.00" y1="719.5" x2="253.00" y2="723.6" stroke="#000" stroke-width="1.3"/>
<text x="253.00" y="737.3" font-size="10.2" text-anchor="middle" fill="#111" stroke="#111" stroke-width="0.15">-25</text>
<line x1="319.45" y1="719.5" x2="319.45" y2="723.6" stroke="#000" stroke-width="1.3"/>
<text x="319.45" y="737.3" font-size="10.2" text-anchor="middle" fill="#111" stroke="#111" stroke-width="0.15">0</text>
<line x1="385.90" y1="719.5" x2="385.90" y2="723.6" stroke="#000" stroke-width="1.3"/>
<text x="385.90" y="737.3" font-size="10.2" text-anchor="middle" fill="#111" stroke="#111" stroke-width="0.15">25</text>
<text transform="translate(310.6,755.4) scale(0.72,1)" font-size="12.6" text-anchor="middle" fill="#1a1a1a" stroke="#1a1a1a" stroke-width="0.4">Difference in proportion (%)</text>
<text transform="translate(66.1,570.6) rotate(-90) scale(0.71,1)" font-size="12.6" text-anchor="middle" fill="#1a1a1a" stroke="#1a1a1a" stroke-width="0.4">Immune marker</text>
<line x1="224" y1="412.4" x2="245.3" y2="412.4" stroke="#000" stroke-width="1"/>
<path d="M219.8,412.4 L227.2,409.9 L227.2,414.9 Z" fill="#000"/>
<text transform="translate(246.6,415.9) scale(1.05,1)" font-size="10.2" fill="#111" stroke="#111" stroke-width="0.15">PB&gt;BM</text>
<line x1="285.3" y1="412.4" x2="310.5" y2="412.4" stroke="#000" stroke-width="1"/>
<line x1="328.3" y1="412.4" x2="354.4" y2="412.4" stroke="#000" stroke-width="1"/>
<text transform="translate(355.0,415.9) scale(1.07,1)" font-size="10.2" fill="#111" stroke="#111" stroke-width="0.15">BM&gt;PB</text>
<line x1="394" y1="412.4" x2="415" y2="412.4" stroke="#000" stroke-width="1"/>
<path d="M419.0,412.4 L411.6,409.9 L411.6,414.9 Z" fill="#000"/>
<text transform="translate(381.4,677.7) scale(0.97,1)" font-size="10" fill="#111" stroke="#111" stroke-width="0.15">Disease</text>
<rect x="383" y="685.1" width="7.8" height="7" fill="#69A845"/>
<text x="394.0" y="691.9" font-size="10.2" fill="#111" stroke="#111" stroke-width="0.15">AML</text>
<rect x="383" y="698.1" width="7.8" height="7" fill="#DC8A18"/>
<text transform="translate(394.0,704.9) scale(0.955,1)" font-size="10.2" fill="#111" stroke="#111" stroke-width="0.15">Healthy</text>
<rect x="0.75" y="0.75" width="518.5" height="766.5" fill="none" stroke="#000" stroke-width="1.5"/>
</svg>
</body></html>
